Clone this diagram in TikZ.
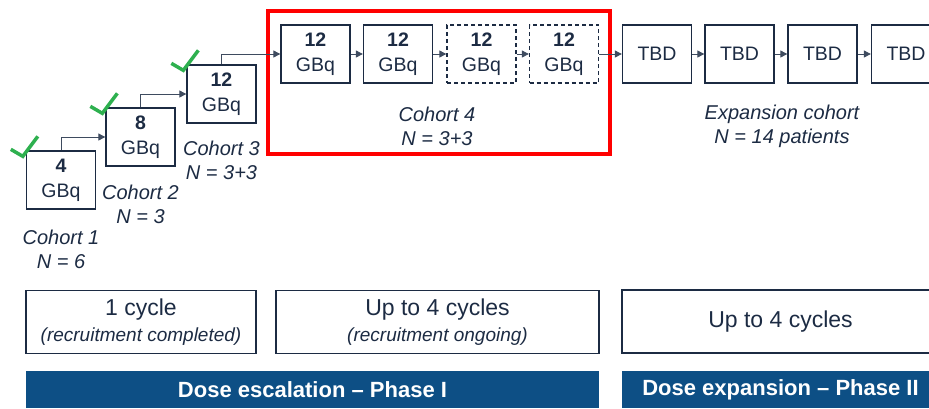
\documentclass[tikz,border=0pt]{standalone}
\usepackage{fontspec}
\setmainfont{Liberation Sans}
\usetikzlibrary{positioning, arrows.meta}

\begin{document}
\begin{tikzpicture}[x=1pt, y=-1pt,
		dosebox/.style={draw=navy1, line width=1.3pt, minimum width=69pt, minimum height=58pt, inner sep=0pt, align=center, text=navy1, font=\fontsize{19.5}{25}\selectfont},
		plannedbox/.style={dosebox, dash pattern=on 4pt off 3pt},
		link/.style={draw=navy1!85, line width=0.9pt, -{Triangle[length=7pt, width=7pt]}},
		cohorttext/.style={align=center, text=navy1, inner sep=1pt, font=\fontsize{20}{24}\selectfont\itshape},
		cyclebox/.style={draw=navy1, line width=1.3pt, minimum height=63pt, inner sep=0pt, align=center, text=navy1, font=\fontsize{23}{26}\selectfont},
		phasebar/.style={fill=blue1, minimum height=37pt, inner sep=0pt, text=white, font=\fontsize{22}{24}\selectfont\bfseries},
		checkmark/.style={draw=green1, line width=3.5pt}]
		\definecolor{navy1}{HTML}{1C2B43}
		\definecolor{blue1}{HTML}{0D4F85}
		\definecolor{green1}{HTML}{2EB04F}
		\definecolor{red1}{HTML}{FF0000}
		\useasboundingbox (0,0) rectangle (929,408);
		\clip (0,0) rectangle (929,408);

		% escalation steps
		\node[dosebox] (d1) at (61,180) {\textbf{4}\\GBq};
		\node[dosebox] (d2) at (140.5,137) {\textbf{8}\\GBq};
		\node[dosebox] (d3) at (221.5,94) {\textbf{12}\\GBq};
		\node[cohorttext, below=19pt of d1] (n1) {Cohort 1\\N = 6};
		\node[cohorttext, below=17pt of d2] (n2) {Cohort 2\\N = 3};
		\node[cohorttext, below=16pt of d3] (n3) {Cohort 3\\N = 3+3};
		\foreach \b in {d1,d2,d3}
			\draw[checkmark] ([shift={(-15,-1)}]\b.north west) -- ++(12,7) -- ++(15,-20);

		% cohort 4 and expansion
		\node[dosebox] (c41) at (315.5,54) {\textbf{12}\\GBq};
		\node[dosebox] (c42) at (398,54) {\textbf{12}\\GBq};
		\node[plannedbox] (c43) at (481.5,54) {\textbf{12}\\GBq};
		\node[plannedbox] (c44) at (564,54) {\textbf{12}\\GBq};
		\foreach \i/\x in {1/657,2/739.5,3/822.5,4/906}
			\node[dosebox] (e\i) at (\x,54) {TBD};
		\node[cohorttext] (n4) at (437,126) {Cohort 4\\N = 3+3};
		\node[cohorttext] (n5) at (782,126) {Expansion cohort\\N = 14 patients};
		\draw[red1, line width=3.5pt] (268,11) rectangle (610,154);

		\draw[link] (d1.north) |- (d2.west);
		\draw[link] (d2.north) |- (d3.west);
		\draw[link] (d3.north) |- (c41.west);
		\draw[link] (c41) -- (c42);
		\draw[link] (c42) -- (c43);
		\draw[link] (c43) -- (c44);
		\draw[link] (c44) -- (e1);
		\draw[link] (e1) -- (e2);
		\draw[link] (e2) -- (e3);
		\draw[link] (e3) -- (e4);

		% cycles and phases
		\node[cyclebox, minimum width=230pt] (y1) at (141,322) {1 cycle\\{\fontsize{19}{22}\selectfont\itshape (recruitment completed)}};
		\node[cyclebox, minimum width=323pt] (y2) at (437.5,322) {Up to 4 cycles\\{\fontsize{19}{22}\selectfont\itshape (recruitment ongoing)}};
		\node[cyclebox, minimum width=317pt] (y3) at (780.5,321.5) {Up to 4 cycles};
		\node[phasebar, minimum width=573pt] (p1) at (312.5,389.5) {Dose escalation -- Phase I};
		\node[phasebar, minimum width=317pt] (p2) at (780.5,389.5) {Dose expansion -- Phase II};
	\end{tikzpicture}
\end{document}
